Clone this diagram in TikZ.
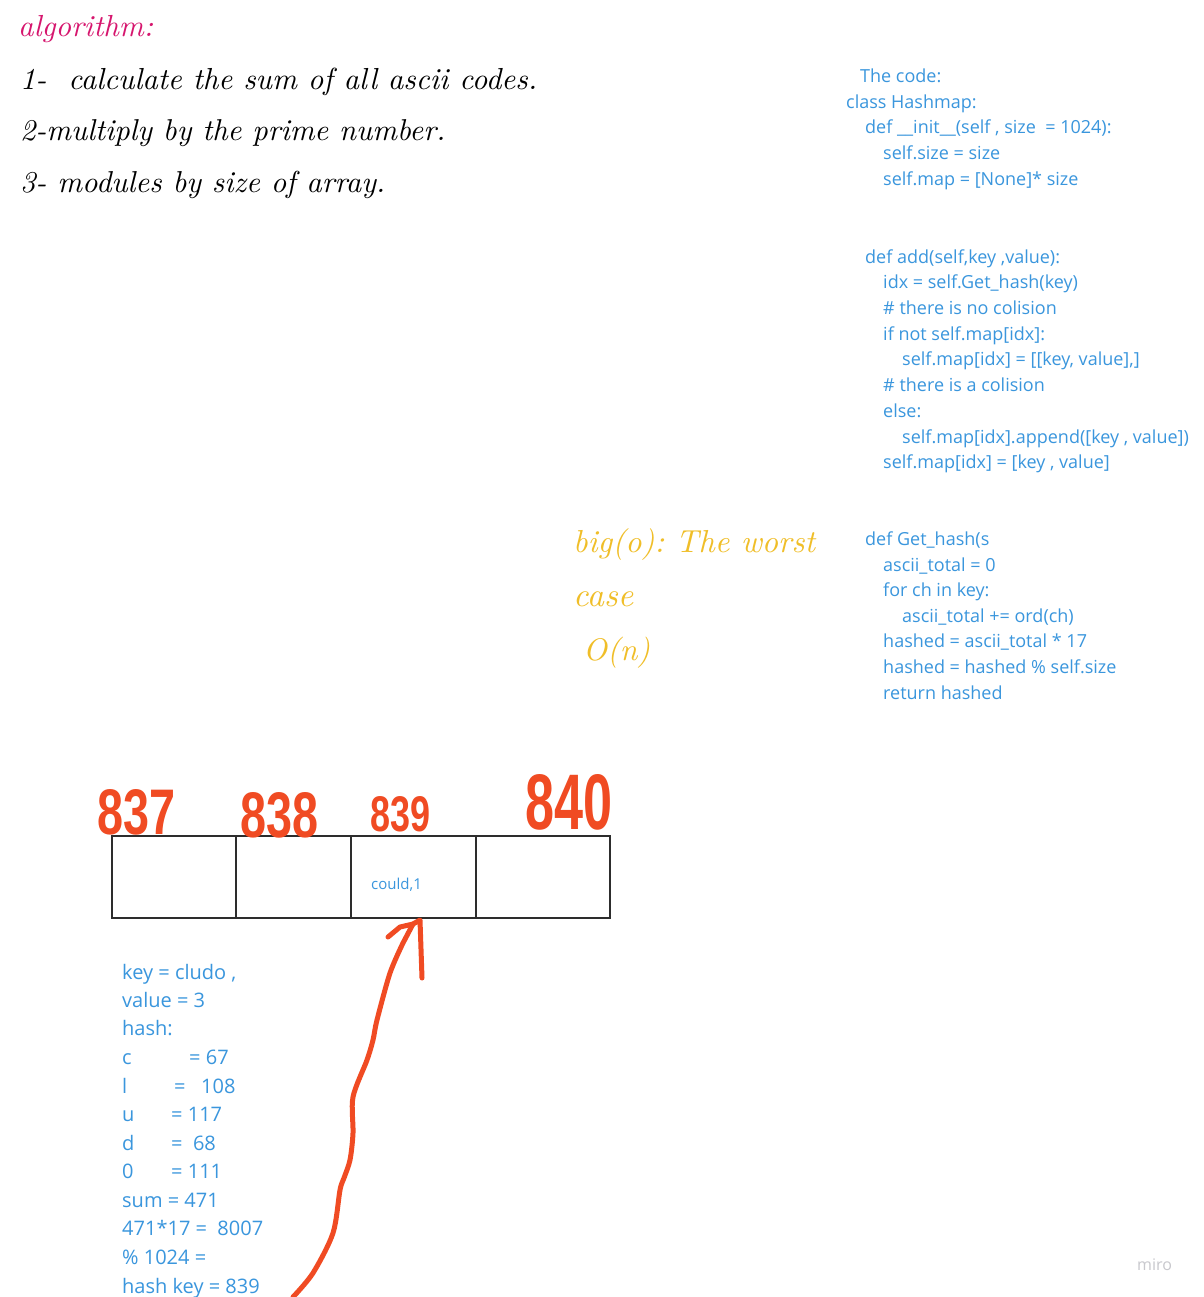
\documentclass[tikz,border=0pt]{standalone}
\usepackage{fontspec}
\setmainfont{Open Sans}
\newfontfamily\handnum{Liberation Sans}
\usetikzlibrary{calc}
\frenchspacing
\definecolor{codeblue}{RGB}{58,150,221}
\definecolor{pinkhead}{RGB}{214,22,110}
\definecolor{yellowhand}{RGB}{240,190,40}
\definecolor{redhand}{RGB}{240,75,35}
\definecolor{cellline}{RGB}{45,45,45}
\definecolor{miroGray}{RGB}{200,200,205}
\tikzset{
  codeline/.style={anchor=base west, inner sep=0pt, text=codeblue, font=\fontsize{18}{21}\selectfont},
  calcline/.style={anchor=base west, inner sep=0pt, text=codeblue, font=\fontsize{20}{23}\selectfont},
  handline/.style={anchor=base west, inner sep=0pt, font=\fontfamily{lmr}\itshape\frenchspacing},
  yellowline/.style={anchor=base west, inner sep=0pt, text=yellowhand, font=\fontfamily{lmr}\itshape\frenchspacing},
  rednum/.style={anchor=south west, inner sep=0pt, text=redhand, font=\handnum\bfseries},
  cellbox/.style={draw=cellline, line width=2pt, anchor=north west, inner sep=0pt},
  redstroke/.style={draw=redhand, line width=5pt, line cap=round, line join=round}
}
\begin{document}
\begin{tikzpicture}[x=1pt,y=-1pt]
\useasboundingbox (0,0) rectangle (1203,1297);
\fill[white] (0,0) rectangle (1203,1297);

% handwritten algorithm
\node[handline, text=pinkhead] (alg) at (18,37) {\resizebox{135pt}{!}{algorithm:}};
\node[handline, text=black] (alg1) at (20,90) {\resizebox{517pt}{!}{1-\ \ calculate the sum of all ascii codes.}};
\node[handline, text=black] (alg2) at (20,141) {\resizebox{425pt}{!}{2-multiply by the prime number.}};
\node[handline, text=black] (alg3) at (20,193) {\resizebox{365pt}{!}{3- modules by size of array.}};

% big O
\node[yellowline] (big1) at (573,552) {\resizebox{242pt}{!}{big(o): The worst}};
\node[yellowline] (big2) at (573,606) {\resizebox{60pt}{!}{case}};
\node[yellowline] (big3) at (583,660) {\resizebox{67pt}{!}{O(n)}};

% code
\node[codeline] (c1) at (860,83) {The code:};
\node[codeline] (c2) at (846,109) {class Hashmap:};
\node[codeline] (c3) at (865,134) {def \_\_init\_\_(self , size\ \ = 1024):};
\node[codeline] (c4) at (883,160) {self.size = size};
\node[codeline] (c5) at (883,186) {self.map = [None]* size};
\node[codeline] (c6) at (865,263) {def add(self,key ,value):};
\node[codeline] (c7) at (883,288) {idx = self.Get\_hash(key)};
\node[codeline] (c8) at (883,314) {\# there is no colision};
\node[codeline] (c9) at (883,340) {if not self.map[idx]:};
\node[codeline] (c10) at (902,365) {self.map[idx] = [[key, value],]};
\node[codeline] (c11) at (883,391) {\# there is a colision};
\node[codeline] (c12) at (883,417) {else:};
\node[codeline] (c13) at (902,443) {self.map[idx].append([key , value])};
\node[codeline] (c14) at (883,468) {self.map[idx] = [key , value]};
\node[codeline] (c15) at (865,545) {def Get\_hash(s};
\node[codeline] (c16) at (883,571) {ascii\_total = 0};
\node[codeline] (c17) at (883,596) {for ch in key:};
\node[codeline] (c18) at (902,622) {ascii\_total += ord(ch)};
\node[codeline] (c19) at (883,647) {hashed = ascii\_total * 17};
\node[codeline] (c20) at (883,673) {hashed = hashed \% self.size};
\node[codeline] (c21) at (883,699) {return hashed};

% array cells
\node[cellbox, minimum width=124pt, minimum height=82pt] (cell1) at (111,835) {};
\node[cellbox, minimum width=115pt, minimum height=82pt] (cell2) at (235,835) {};
\node[cellbox, minimum width=125pt, minimum height=82pt] (cell3) at (350,835) {};
\node[cellbox, minimum width=134pt, minimum height=82pt] (cell4) at (475,835) {};
\node[anchor=base west, inner sep=0pt, text=codeblue, font=\fontsize{15}{18}\selectfont] (could) at (371,889) {could,1};

% red numbers
\node[rednum] (n837) at (97,835) {\resizebox{78pt}{45pt}{837}};
\node[rednum] (n838) at (240,838) {\resizebox{78pt}{45pt}{838}};
\node[rednum] (n839) at (370,832) {\resizebox{60pt}{35pt}{839}};
\node[rednum] (n840) at (525,830) {\resizebox{87pt}{55pt}{840}};

% calculation text
\node[calcline] (k1) at (122,979) {key = cludo ,};
\node[calcline] (k2) at (122,1007) {value = 3};
\node[calcline] (k3) at (122,1035) {hash:};
\node[calcline] (k4) at (122,1064) {\makebox[67pt][l]{c}= 67};
\node[calcline] (k5) at (122,1093) {\makebox[52pt][l]{l}=\ \ \ 108};
\node[calcline] (k6) at (122,1121) {\makebox[49pt][l]{u}= 117};
\node[calcline] (k7) at (122,1150) {\makebox[49pt][l]{d}=\ \ 68};
\node[calcline] (k8) at (122,1178) {\makebox[49pt][l]{0}= 111};
\node[calcline] (k9) at (122,1207) {sum = 471};
\node[calcline] (k10) at (122,1235) {471*17 =\ \ 8007};
\node[calcline] (k11) at (122,1264) {\% 1024 =};
\node[calcline] (k12) at (122,1293) {hash key = 839};

% red hand-drawn arrow
\coordinate (arrowtail) at (293,1297);
\coordinate (arrowtip) at ($(cell3.south west)+(63,5)$);
\draw[redstroke] (arrowtail) plot[smooth, tension=0.5] coordinates {(293,1297) (313,1273) (333,1233) (340,1190) (344,1178) (350,1160) (353,1133) (353,1097) (367,1060) (373,1040) (377,1020) (390,973) (403,943)} -- (arrowtip);
\draw[redstroke] (388,937) -- (400,927) -- (arrowtip) -- (420,920) -- (422,978);

% watermark
\node[anchor=base west, inner sep=0pt, text=miroGray, font=\fontsize{16}{18}\selectfont] (miro) at (1137,1270) {miro};
\end{tikzpicture}
\end{document}
